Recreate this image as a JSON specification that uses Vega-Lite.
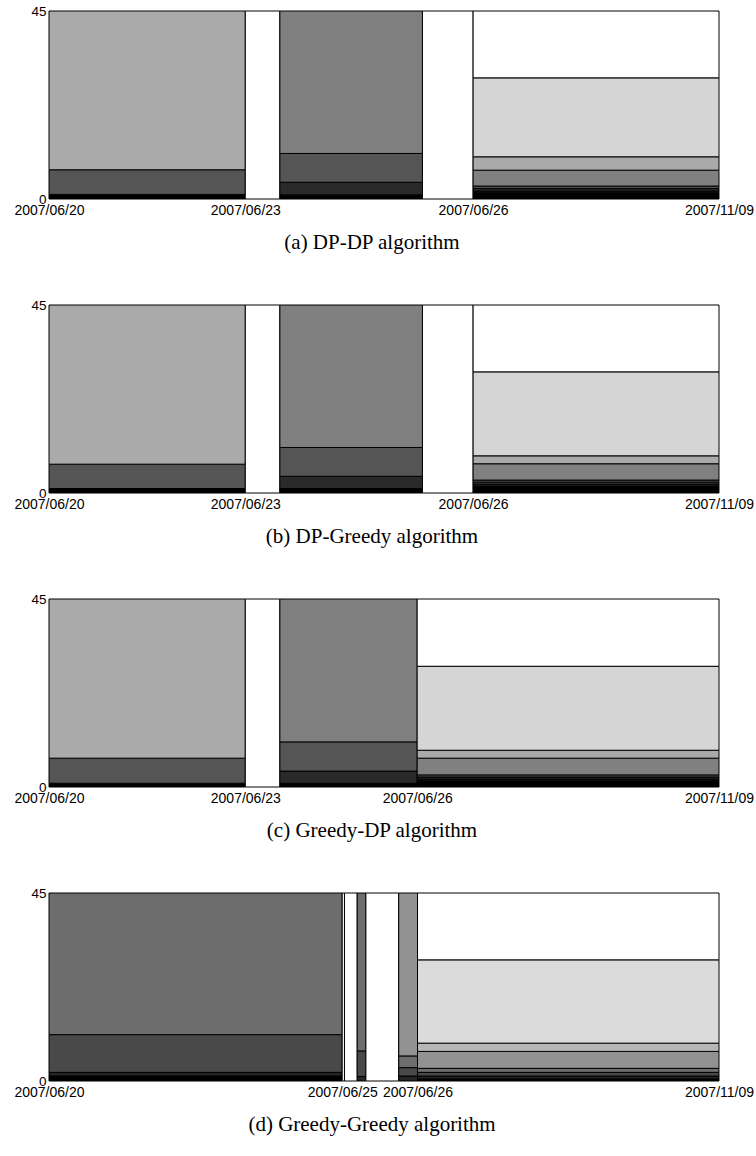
{
  "$schema": "https://vega.github.io/schema/vega-lite/v6.json",
  "padding": {"left": 13, "right": 3, "top": 4, "bottom": 5},
  "background": "white",
  "spacing": 45,
  "data": {"values": [
    {"panel": "a", "x0": 0, "x1": 29.3, "y0": 0, "y1": 1.1, "shade": "a0"},
    {"panel": "a", "x0": 0, "x1": 29.3, "y0": 1.1, "y1": 7.0, "shade": "a2"},
    {"panel": "a", "x0": 0, "x1": 29.3, "y0": 7.0, "y1": 45, "shade": "a4"},
    {"panel": "a", "x0": 29.3, "x1": 34.46, "y0": 0, "y1": 45, "shade": "a6"},
    {"panel": "a", "x0": 34.46, "x1": 55.74, "y0": 0, "y1": 1.0, "shade": "a0"},
    {"panel": "a", "x0": 34.46, "x1": 55.74, "y0": 1.0, "y1": 4.0, "shade": "a1"},
    {"panel": "a", "x0": 34.46, "x1": 55.74, "y0": 4.0, "y1": 10.9, "shade": "a2"},
    {"panel": "a", "x0": 34.46, "x1": 55.74, "y0": 10.9, "y1": 45, "shade": "a3"},
    {"panel": "a", "x0": 55.74, "x1": 63.3, "y0": 0, "y1": 45, "shade": "a6"},
    {"panel": "a", "x0": 63.3, "x1": 100, "y0": 0, "y1": 1.1, "shade": "a0"},
    {"panel": "a", "x0": 63.3, "x1": 100, "y0": 1.1, "y1": 1.5, "shade": "a0"},
    {"panel": "a", "x0": 63.3, "x1": 100, "y0": 1.5, "y1": 1.9, "shade": "a1"},
    {"panel": "a", "x0": 63.3, "x1": 100, "y0": 1.9, "y1": 2.5, "shade": "a1"},
    {"panel": "a", "x0": 63.3, "x1": 100, "y0": 2.5, "y1": 3.1, "shade": "a2"},
    {"panel": "a", "x0": 63.3, "x1": 100, "y0": 3.1, "y1": 6.9, "shade": "a3"},
    {"panel": "a", "x0": 63.3, "x1": 100, "y0": 6.9, "y1": 10.1, "shade": "a4"},
    {"panel": "a", "x0": 63.3, "x1": 100, "y0": 10.1, "y1": 29.0, "shade": "a5"},
    {"panel": "a", "x0": 63.3, "x1": 100, "y0": 29.0, "y1": 45, "shade": "a6"},

    {"panel": "b", "x0": 0, "x1": 29.3, "y0": 0, "y1": 1.07, "shade": "a0"},
    {"panel": "b", "x0": 0, "x1": 29.3, "y0": 1.07, "y1": 6.9, "shade": "a2"},
    {"panel": "b", "x0": 0, "x1": 29.3, "y0": 6.9, "y1": 45, "shade": "a4"},
    {"panel": "b", "x0": 29.3, "x1": 34.46, "y0": 0, "y1": 45, "shade": "a6"},
    {"panel": "b", "x0": 34.46, "x1": 55.74, "y0": 0, "y1": 1.07, "shade": "a0"},
    {"panel": "b", "x0": 34.46, "x1": 55.74, "y0": 1.07, "y1": 4.0, "shade": "a1"},
    {"panel": "b", "x0": 34.46, "x1": 55.74, "y0": 4.0, "y1": 10.9, "shade": "a2"},
    {"panel": "b", "x0": 34.46, "x1": 55.74, "y0": 10.9, "y1": 45, "shade": "a3"},
    {"panel": "b", "x0": 55.74, "x1": 63.3, "y0": 0, "y1": 45, "shade": "a6"},
    {"panel": "b", "x0": 63.3, "x1": 100, "y0": 0, "y1": 1.2, "shade": "a0"},
    {"panel": "b", "x0": 63.3, "x1": 100, "y0": 1.2, "y1": 1.6, "shade": "a0"},
    {"panel": "b", "x0": 63.3, "x1": 100, "y0": 1.6, "y1": 2.0, "shade": "a1"},
    {"panel": "b", "x0": 63.3, "x1": 100, "y0": 2.0, "y1": 2.6, "shade": "a1"},
    {"panel": "b", "x0": 63.3, "x1": 100, "y0": 2.6, "y1": 3.1, "shade": "a2"},
    {"panel": "b", "x0": 63.3, "x1": 100, "y0": 3.1, "y1": 7.0, "shade": "a3"},
    {"panel": "b", "x0": 63.3, "x1": 100, "y0": 7.0, "y1": 8.9, "shade": "a4"},
    {"panel": "b", "x0": 63.3, "x1": 100, "y0": 8.9, "y1": 29.0, "shade": "a5"},
    {"panel": "b", "x0": 63.3, "x1": 100, "y0": 29.0, "y1": 45, "shade": "a6"},

    {"panel": "c", "x0": 0, "x1": 29.3, "y0": 0, "y1": 0.9, "shade": "a0"},
    {"panel": "c", "x0": 0, "x1": 29.3, "y0": 0.9, "y1": 6.9, "shade": "a2"},
    {"panel": "c", "x0": 0, "x1": 29.3, "y0": 6.9, "y1": 45, "shade": "a4"},
    {"panel": "c", "x0": 29.3, "x1": 34.46, "y0": 0, "y1": 45, "shade": "a6"},
    {"panel": "c", "x0": 34.46, "x1": 54.95, "y0": 0, "y1": 0.9, "shade": "a0"},
    {"panel": "c", "x0": 34.46, "x1": 54.95, "y0": 0.9, "y1": 3.8, "shade": "a1"},
    {"panel": "c", "x0": 34.46, "x1": 54.95, "y0": 3.8, "y1": 10.8, "shade": "a2"},
    {"panel": "c", "x0": 34.46, "x1": 54.95, "y0": 10.8, "y1": 45, "shade": "a3"},
    {"panel": "c", "x0": 54.95, "x1": 100, "y0": 0, "y1": 1.1, "shade": "a0"},
    {"panel": "c", "x0": 54.95, "x1": 100, "y0": 1.1, "y1": 1.5, "shade": "a0"},
    {"panel": "c", "x0": 54.95, "x1": 100, "y0": 1.5, "y1": 1.9, "shade": "a1"},
    {"panel": "c", "x0": 54.95, "x1": 100, "y0": 1.9, "y1": 2.4, "shade": "a1"},
    {"panel": "c", "x0": 54.95, "x1": 100, "y0": 2.4, "y1": 2.9, "shade": "a2"},
    {"panel": "c", "x0": 54.95, "x1": 100, "y0": 2.9, "y1": 6.9, "shade": "a3"},
    {"panel": "c", "x0": 54.95, "x1": 100, "y0": 6.9, "y1": 8.8, "shade": "a4"},
    {"panel": "c", "x0": 54.95, "x1": 100, "y0": 8.8, "y1": 28.9, "shade": "a5"},
    {"panel": "c", "x0": 54.95, "x1": 100, "y0": 28.9, "y1": 45, "shade": "a6"},

    {"panel": "d", "x0": 0, "x1": 43.76, "y0": 0, "y1": 1.2, "shade": "d0"},
    {"panel": "d", "x0": 0, "x1": 43.76, "y0": 1.2, "y1": 2.07, "shade": "d1"},
    {"panel": "d", "x0": 0, "x1": 43.76, "y0": 2.07, "y1": 11.1, "shade": "d2"},
    {"panel": "d", "x0": 0, "x1": 43.76, "y0": 11.1, "y1": 45, "shade": "d3"},
    {"panel": "d", "x0": 43.76, "x1": 44.1, "y0": 0, "y1": 45, "shade": "d7"},
    {"panel": "d", "x0": 44.1, "x1": 46.0, "y0": 0, "y1": 45, "shade": "d7"},
    {"panel": "d", "x0": 46.0, "x1": 47.3, "y0": 0, "y1": 1.1, "shade": "d1"},
    {"panel": "d", "x0": 46.0, "x1": 47.3, "y0": 1.1, "y1": 7.2, "shade": "d2"},
    {"panel": "d", "x0": 46.0, "x1": 47.3, "y0": 7.2, "y1": 45, "shade": "d3"},
    {"panel": "d", "x0": 47.3, "x1": 52.2, "y0": 0, "y1": 45, "shade": "d7"},
    {"panel": "d", "x0": 52.2, "x1": 55.0, "y0": 0, "y1": 1.2, "shade": "d1"},
    {"panel": "d", "x0": 52.2, "x1": 55.0, "y0": 1.2, "y1": 3.2, "shade": "d2"},
    {"panel": "d", "x0": 52.2, "x1": 55.0, "y0": 3.2, "y1": 6.0, "shade": "d3"},
    {"panel": "d", "x0": 52.2, "x1": 55.0, "y0": 6.0, "y1": 45, "shade": "d4"},
    {"panel": "d", "x0": 55.0, "x1": 100, "y0": 0, "y1": 0.5, "shade": "d0"},
    {"panel": "d", "x0": 55.0, "x1": 100, "y0": 0.5, "y1": 1.19, "shade": "d1"},
    {"panel": "d", "x0": 55.0, "x1": 100, "y0": 1.19, "y1": 2.07, "shade": "d2"},
    {"panel": "d", "x0": 55.0, "x1": 100, "y0": 2.07, "y1": 3.03, "shade": "d3"},
    {"panel": "d", "x0": 55.0, "x1": 100, "y0": 3.03, "y1": 7.08, "shade": "d4"},
    {"panel": "d", "x0": 55.0, "x1": 100, "y0": 7.08, "y1": 9.06, "shade": "d5"},
    {"panel": "d", "x0": 55.0, "x1": 100, "y0": 9.06, "y1": 29.0, "shade": "d6"},
    {"panel": "d", "x0": 55.0, "x1": 100, "y0": 29.0, "y1": 45, "shade": "d7"}
  ]},
  "config": {
    "view": {"stroke": null},
    "axis": {"grid": false, "ticks": false, "domain": false, "labelFont": "Liberation Sans", "labelFontSize": 14, "labelColor": "#000", "labelFlush": false, "labelOverlap": false, "labelBound": false},
    "title": {"font": "Liberation Serif", "fontSize": 21, "fontWeight": "normal", "color": "#000", "orient": "bottom", "anchor": "middle", "offset": 14, "dx": -12}
  },
  "vconcat": [
    {
      "width": 670, "height": 188,
      "title": "(a)  DP-DP algorithm",
      "transform": [{"filter": "datum.panel == 'a'"}],
      "mark": {"type": "rect", "stroke": "#000", "strokeWidth": 1},
      "encoding": {
        "x": {"field": "x0", "type": "quantitative", "scale": {"domain": [0, 100], "nice": false, "zero": false},
              "axis": {"title": null, "values": [0, 29.3, 63.3, 100], "labelPadding": 4.5,
                       "labelExpr": "datum.value == 0 ? '2007/06/20' : datum.value < 40 ? '2007/06/23' : datum.value < 90 ? '2007/06/26' : '2007/11/09'"}},
        "x2": {"field": "x1"},
        "y": {"field": "y0", "type": "quantitative", "scale": {"domain": [0, 45], "nice": false},
              "axis": {"title": null, "values": [0, 45], "labelPadding": 3, "labelFontSize": 13.5}},
        "y2": {"field": "y1"},
        "color": {"field": "shade", "type": "nominal", "legend": null,
                  "scale": {"domain": ["a0","a1","a2","a3","a4","a5","a6","d0","d1","d2","d3","d4","d5","d6","d7"],
                            "range": ["#000000","#2a2a2a","#555555","#808080","#aaaaaa","#d5d5d5","#ffffff","#000000","#242424","#494949","#6d6d6d","#929292","#b6b6b6","#dbdbdb","#ffffff"]}}
      }
    },
    {
      "width": 670, "height": 188,
      "title": "(b)  DP-Greedy algorithm",
      "transform": [{"filter": "datum.panel == 'b'"}],
      "mark": {"type": "rect", "stroke": "#000", "strokeWidth": 1},
      "encoding": {
        "x": {"field": "x0", "type": "quantitative", "scale": {"domain": [0, 100], "nice": false, "zero": false},
              "axis": {"title": null, "values": [0, 29.3, 63.3, 100], "labelPadding": 4.5,
                       "labelExpr": "datum.value == 0 ? '2007/06/20' : datum.value < 40 ? '2007/06/23' : datum.value < 90 ? '2007/06/26' : '2007/11/09'"}},
        "x2": {"field": "x1"},
        "y": {"field": "y0", "type": "quantitative", "scale": {"domain": [0, 45], "nice": false},
              "axis": {"title": null, "values": [0, 45], "labelPadding": 3, "labelFontSize": 13.5}},
        "y2": {"field": "y1"},
        "color": {"field": "shade", "type": "nominal", "legend": null}
      }
    },
    {
      "width": 670, "height": 188,
      "title": "(c)  Greedy-DP algorithm",
      "transform": [{"filter": "datum.panel == 'c'"}],
      "mark": {"type": "rect", "stroke": "#000", "strokeWidth": 1},
      "encoding": {
        "x": {"field": "x0", "type": "quantitative", "scale": {"domain": [0, 100], "nice": false, "zero": false},
              "axis": {"title": null, "values": [0, 29.3, 54.95, 100], "labelPadding": 4.5,
                       "labelExpr": "datum.value == 0 ? '2007/06/20' : datum.value < 40 ? '2007/06/23' : datum.value < 90 ? '2007/06/26' : '2007/11/09'"}},
        "x2": {"field": "x1"},
        "y": {"field": "y0", "type": "quantitative", "scale": {"domain": [0, 45], "nice": false},
              "axis": {"title": null, "values": [0, 45], "labelPadding": 3, "labelFontSize": 13.5}},
        "y2": {"field": "y1"},
        "color": {"field": "shade", "type": "nominal", "legend": null}
      }
    },
    {
      "width": 670, "height": 188,
      "title": "(d)  Greedy-Greedy algorithm",
      "transform": [{"filter": "datum.panel == 'd'"}],
      "mark": {"type": "rect", "stroke": "#000", "strokeWidth": 1},
      "encoding": {
        "x": {"field": "x0", "type": "quantitative", "scale": {"domain": [0, 100], "nice": false, "zero": false},
              "axis": {"title": null, "values": [0, 43.76, 55.0, 100], "labelPadding": 4.5,
                       "labelExpr": "datum.value == 0 ? '2007/06/20' : datum.value < 50 ? '2007/06/25' : datum.value < 90 ? '2007/06/26' : '2007/11/09'"}},
        "x2": {"field": "x1"},
        "y": {"field": "y0", "type": "quantitative", "scale": {"domain": [0, 45], "nice": false},
              "axis": {"title": null, "values": [0, 45], "labelPadding": 3, "labelFontSize": 13.5}},
        "y2": {"field": "y1"},
        "color": {"field": "shade", "type": "nominal", "legend": null}
      }
    }
  ]
}
